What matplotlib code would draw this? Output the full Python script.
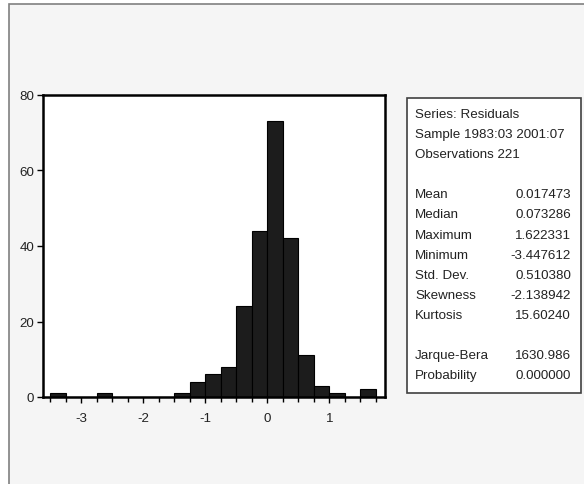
import matplotlib
matplotlib.use("Agg")
import matplotlib.pyplot as plt
from matplotlib.patches import Rectangle
from matplotlib.ticker import MultipleLocator

plt.rcParams['font.family'] = ['Liberation Sans', 'DejaVu Sans']
plt.rcParams['axes.unicode_minus'] = False

# histogram of residuals (bin width 0.25)
bin_starts = [-3.5, -3.25, -3.0, -2.75, -2.5, -2.25, -2.0, -1.75, -1.5, -1.25, -1.0,
              -0.75, -0.5, -0.25, 0.0, 0.25, 0.5, 0.75, 1.0, 1.25, 1.5]
counts = [1, 0, 0, 1, 0, 0, 0, 0, 1, 4, 6, 8, 24, 44, 73, 42, 11, 3, 1, 0, 2]
bin_width = 0.25

header = ["Series: Residuals", "Sample 1983:03 2001:07", "Observations 221"]
stat_names = ["Mean", "Median", "Maximum", "Minimum", "Std. Dev.", "Skewness", "Kurtosis"]
stat_values = ["0.017473", "0.073286", "1.622331", "-3.447612", "0.510380", "-2.138942", "15.60240"]
test_names = ["Jarque-Bera", "Probability"]
test_values = ["1630.986", "0.000000"]

W, H = 584, 485
FS = 9.6
fig = plt.figure(figsize=(W / 100, H / 100), dpi=100, facecolor='white')

# grey window panel (only top and left edges visible)
panel = Rectangle((9 / W, -0.1), 1, 1.1 - 5 / H, transform=fig.transFigure,
                  facecolor='#f5f5f5', edgecolor='#808080', lw=1.2, zorder=-2)
fig.patches.append(panel)

ax = fig.add_axes([43 / W, 1 - 398 / H, 342 / W, 302 / H])
ax.set_facecolor('white')
ax.bar(bin_starts, counts, width=bin_width, align='edge',
       color='#1c1c1c', edgecolor='black', linewidth=0.8)
ax.set_xlim(-3.62, 1.9)
ax.set_ylim(0, 80)
ax.set_xticks([-3, -2, -1, 0, 1])
ax.xaxis.set_minor_locator(MultipleLocator(0.25))
ax.set_yticks([0, 20, 40, 60, 80])
for s in ax.spines.values():
    s.set_linewidth(1.8)
    s.set_color('black')
ax.tick_params(axis='both', which='major', direction='out', length=4.5, width=1,
               labelsize=FS, colors='black', labelcolor='#222222')
ax.tick_params(axis='x', which='minor', direction='out', length=3.5, width=1)
ax.tick_params(axis='x', pad=6)
ax.tick_params(axis='y', pad=2)

# statistics box
box = Rectangle((407 / W, 1 - 394 / H), 174 / W, 295 / H, transform=fig.transFigure,
                facecolor='white', edgecolor='#404040', lw=1.2, zorder=-1)
fig.patches.append(box)

def put(row, label, value=None):
    y = 1 - (115 + 20.1 * row) / H
    fig.text(415 / W, y, label, fontsize=FS, va='center', ha='left', color='#222222')
    if value is not None:
        fig.text(571 / W, y, value, fontsize=FS, va='center', ha='right', color='#222222')

for i, t in enumerate(header):
    put(i, t)
for i, (n, v) in enumerate(zip(stat_names, stat_values)):
    put(4 + i, n, v)
for i, (n, v) in enumerate(zip(test_names, test_values)):
    put(12 + i, n, v)

fig.savefig("out.png", dpi=100, facecolor=fig.get_facecolor())
